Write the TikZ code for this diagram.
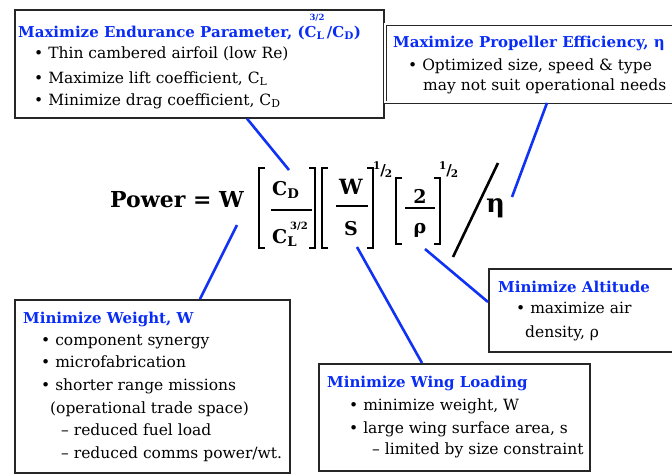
\documentclass[tikz,border=0pt]{standalone}
\usepackage{fontspec}
\setmainfont{DejaVu Serif}
\definecolor{titleblue}{RGB}{10,45,245}
\definecolor{lineblue}{RGB}{15,50,245}
\begin{document}
\begin{tikzpicture}[x=1pt,y=-1pt,
  box/.style={draw=black!85,line width=1.6pt,anchor=north west,inner sep=0pt},
  dbox/.style={draw=black!85,double,double distance=2pt,line width=0.9pt,anchor=north west,inner sep=0pt},
  ttl/.style={anchor=base west,inner sep=0pt,font=\fontsize{15}{16}\selectfont\bfseries,text=titleblue},
  txt/.style={anchor=base west,inner sep=0pt,font=\fontsize{15.5}{17}\selectfont},
  conn/.style={draw=lineblue,line width=2.6pt},
  eq/.style={anchor=base,inner sep=0pt,font=\fontsize{19}{20}\selectfont\bfseries},
  half/.style={inner sep=0pt,font=\fontsize{15}{16}\selectfont\bfseries},
  brk/.style={line width=2.2pt},
  bar/.style={line width=1.6pt},
]
\useasboundingbox (0,0) rectangle (672,474);
\fill[white] (0,0) rectangle (672,474);

% ---------- boxes ----------
\node[box,minimum width=369pt,minimum height=108pt] (endur) at (14,9) {};
\node[dbox,minimum width=292pt,minimum height=78pt] (prop) at (385,24) {};
\node[box,minimum width=275pt,minimum height=173pt] (weight) at (14,299) {};
\node[box,minimum width=271pt,minimum height=107pt] (wing) at (318,363) {};
\node[box,minimum width=190pt,minimum height=83pt] (alt) at (488,268) {};

% ---------- endurance ----------
\node[ttl] (t1) at (18,37) {Maximize Endurance Parameter, (C\textsubscript{L}\llap{\raisebox{2.1ex}{\fontsize{8.5}{9}\selectfont 3/2}}\,/C\textsubscript{D})};
\node[txt] (e1) at (34,58) {\textbullet\ Thin cambered airfoil (low Re)};
\node[txt] (e2) at (34,83) {\textbullet\ Maximize lift coefficient, C\textsubscript{L}};
\node[txt] (e3) at (34,105) {\textbullet\ Minimize drag coefficient, C\textsubscript{D}};

% ---------- propeller ----------
\node[ttl] (t2) at (393,47) {Maximize Propeller Efficiency, η};
\node[txt] (p1) at (408,70) {\textbullet\ Optimized size, speed \& type};
\node[txt] (p2) at (423,90) {may not suit operational needs};

% ---------- weight ----------
\node[ttl] (t3) at (23,323) {Minimize Weight, W};
\node[txt] (w1) at (41,345) {\textbullet\ component synergy};
\node[txt] (w2) at (41,367) {\textbullet\ microfabrication};
\node[txt] (w3) at (41,390) {\textbullet\ shorter range missions};
\node[txt] (w4) at (50,413) {(operational trade space)};
\node[txt] (w5) at (61,435) {– reduced fuel load};
\node[txt] (w6) at (61,458) {– reduced comms power/wt.};

% ---------- wing loading ----------
\node[ttl] (t4) at (327,387) {Minimize Wing Loading};
\node[txt] (g1) at (349,410) {\textbullet\ minimize weight, W};
\node[txt] (g2) at (349,433) {\textbullet\ large wing surface area, s};
\node[txt] (g3) at (372,454) {– limited by size constraint};

% ---------- altitude ----------
\node[ttl] (t5) at (498,292) {Minimize Altitude};
\node[txt] (a1) at (516,313) {\textbullet\ maximize air};
\node[txt] (a2) at (525,337) {density, ρ};

% ---------- equation ----------
\node[eq,anchor=base west,font=\fontsize{22}{24}\selectfont\bfseries] (pw) at (110,207) {Power = W};
\draw[brk] (265,168) -- (259,168) -- (259,248) -- (265,248);
\draw[brk] (309,168) -- (315,168) -- (315,248) -- (309,248);
\draw[brk] (328,168) -- (322,168) -- (322,248) -- (328,248);
\draw[brk] (367,168) -- (373,168) -- (373,248) -- (367,248);
\draw[brk] (402,178) -- (396,178) -- (396,244) -- (402,244);
\draw[brk] (434,178) -- (440,178) -- (440,244) -- (434,244);
\draw[bar] (271,210) -- (312,210);
\draw[bar] (336,206) -- (368,206);
\draw[bar] (405,208) -- (435,208);
\node[eq,anchor=base west] (cdn) at (272,195) {C\textsubscript{D}};
\node[eq,anchor=base west] (cln) at (272,243) {C\textsubscript{L}};
\node[inner sep=0pt,anchor=base west,font=\fontsize{10}{11}\selectfont\bfseries] (cle) at (290,229) {3/2};
\node[eq,font=\fontsize{21}{22}\selectfont\bfseries] (wn) at (351,194) {W};
\node[eq] (sn) at (351,235) {S};
\node[eq] (twon) at (420,203) {2};
\node[eq] (rhon) at (420,233) {ρ};
\node[half] (h1) at (383,170) {\textsuperscript{1}\kern-0.05em/\kern-0.05em\textsubscript{2}};
\node[half] (h2) at (449,170) {\textsuperscript{1}\kern-0.05em/\kern-0.05em\textsubscript{2}};
\draw[line width=2.6pt] (498,163) -- (453,257);
\node[eq,anchor=base west,font=\fontsize{26}{28}\selectfont\bfseries] (eta) at (486,212) {η};

% ---------- connectors ----------
\coordinate (cA) at (289,170);
\coordinate (cB) at (512,197);
\coordinate (cC) at (237,225);
\coordinate (cD) at (357,247);
\coordinate (cE) at (425,249);
\draw[conn] (endur.south -| 247,0) -- (cA);
\draw[conn] (prop.south -| 547,0) -- (cB);
\draw[conn] (weight.north -| 200,0) -- (cC);
\draw[conn] (wing.north -| 422,0) -- (cD);
\draw[conn] (alt.west |- 0,302) -- (cE);
\end{tikzpicture}
\end{document}
